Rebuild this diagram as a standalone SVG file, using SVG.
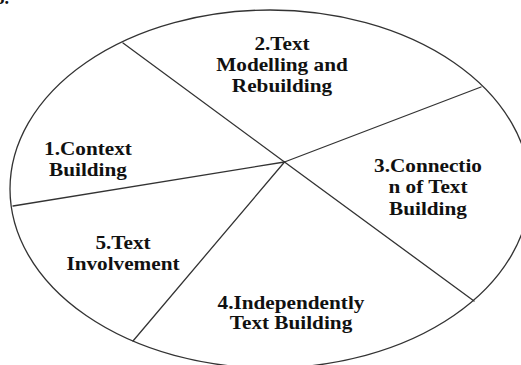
<svg xmlns="http://www.w3.org/2000/svg" width="521" height="365" viewBox="0 0 521 365">
<style>
.t{font-family:'Liberation Serif','DejaVu Serif',serif;font-weight:700;font-size:18px;fill:#111;text-anchor:middle}
.ln{stroke:#333;stroke-width:1.3;fill:none;stroke-linecap:round}
</style>
<rect width="521" height="365" fill="#fff"/>
<text class="t" x="9" y="4" style="text-anchor:end">3.</text>
<g id="circle">
<ellipse class="ln" cx="270" cy="189" rx="260" ry="179"/>
</g>
<g id="connectors">
<line class="ln" x1="284.5" y1="162" x2="123" y2="43"/>
<line class="ln" x1="284.5" y1="162" x2="481" y2="87"/>
<line class="ln" x1="284.5" y1="162" x2="474" y2="301"/>
<line class="ln" x1="284.5" y1="162" x2="133" y2="341"/>
<line class="ln" x1="284.5" y1="162" x2="13" y2="206"/>
</g>
<g id="node1" transform="translate(88,0) scale(1.18,1)">
<text class="t" x="0" y="155">1.Context</text>
<text class="t" x="0" y="176">Building</text>
</g>
<g id="node2" transform="translate(282,0) scale(1.18,1)">
<text class="t" x="0" y="50.5">2.Text</text>
<text class="t" x="0" y="71.5">Modelling and</text>
<text class="t" x="0" y="92.5">Rebuilding</text>
</g>
<g id="node3" transform="translate(428,0) scale(1.18,1)">
<text class="t" x="0" y="172">3.Connectio</text>
<text class="t" x="0" y="193.5">n of Text</text>
<text class="t" x="0" y="215">Building</text>
</g>
<g id="node4" transform="translate(291,0) scale(1.18,1)">
<text class="t" x="0" y="309">4.Independently</text>
<text class="t" x="0" y="329.5">Text Building</text>
</g>
<g id="node5" transform="translate(123,0) scale(1.18,1)">
<text class="t" x="0" y="249">5.Text</text>
<text class="t" x="0" y="270.5">Involvement</text>
</g>
</svg>
